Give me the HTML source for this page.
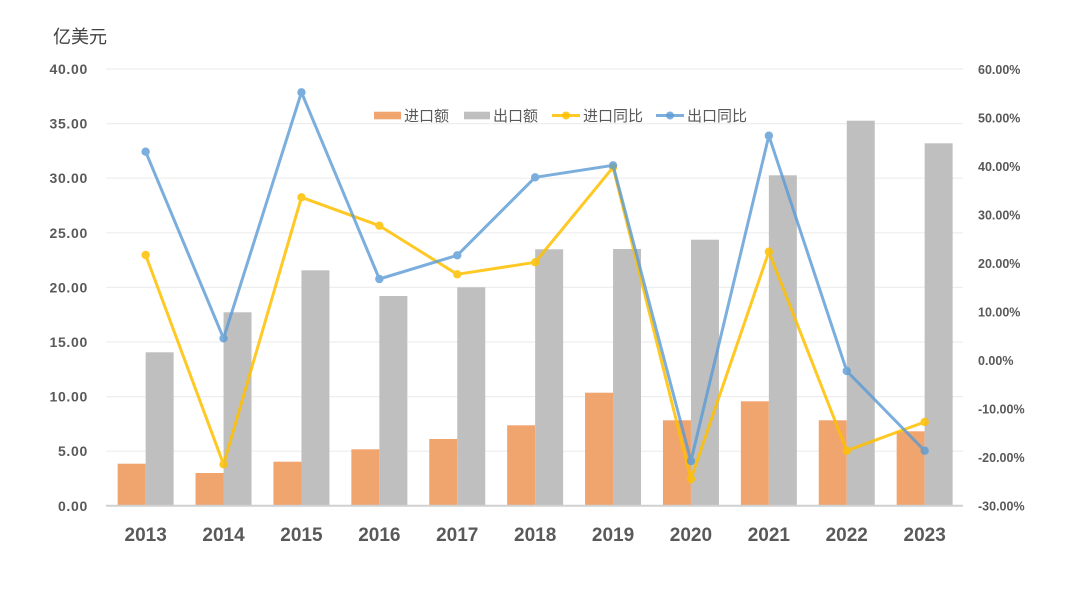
<!DOCTYPE html>
<html><head><meta charset="utf-8">
<style>
html,body{margin:0;padding:0;background:#fff;}
svg{display:block;}
text{font-family:"Liberation Sans","Noto Sans CJK SC",sans-serif;}
</style></head>
<body>
<svg width="1080" height="612" viewBox="0 0 1080 612" xmlns="http://www.w3.org/2000/svg">
<rect width="1080" height="612" fill="#fff"/>
<text x="53" y="43" font-size="18" fill="#404040">亿美元</text>
<!-- gridlines -->
<g stroke="#EEEEEE" stroke-width="1.2">
<line x1="106" y1="69" x2="963" y2="69"/>
<line x1="106" y1="123.6" x2="963" y2="123.6"/>
<line x1="106" y1="178.2" x2="963" y2="178.2"/>
<line x1="106" y1="232.8" x2="963" y2="232.8"/>
<line x1="106" y1="287.4" x2="963" y2="287.4"/>
<line x1="106" y1="342" x2="963" y2="342"/>
<line x1="106" y1="396.6" x2="963" y2="396.6"/>
<line x1="106" y1="451.2" x2="963" y2="451.2"/>
</g>
<!-- left axis labels -->
<g font-size="14" font-weight="bold" fill="#595959" text-anchor="end" letter-spacing="0.7">
<text x="88" y="74">40.00</text>
<text x="88" y="128.6">35.00</text>
<text x="88" y="183.2">30.00</text>
<text x="88" y="237.8">25.00</text>
<text x="88" y="292.4">20.00</text>
<text x="88" y="347">15.00</text>
<text x="88" y="401.6">10.00</text>
<text x="88" y="456.2">5.00</text>
<text x="88" y="511">0.00</text>
</g>
<!-- right axis labels -->
<g font-size="12.5" font-weight="bold" fill="#595959">
<text x="978" y="74">60.00%</text>
<text x="978" y="122.5">50.00%</text>
<text x="978" y="171">40.00%</text>
<text x="978" y="219.5">30.00%</text>
<text x="978" y="268">20.00%</text>
<text x="978" y="316.5">10.00%</text>
<text x="978" y="365">0.00%</text>
<text x="978" y="413.5">-10.00%</text>
<text x="978" y="462">-20.00%</text>
<text x="978" y="510.5">-30.00%</text>
</g>
<!-- bars -->
<g fill="#F0A46E">
<rect x="117.65" y="463.7" width="28" height="41.6"/>
<rect x="195.55" y="473" width="28" height="32.3"/>
<rect x="273.45" y="461.7" width="28" height="43.6"/>
<rect x="351.35" y="449.3" width="28" height="56"/>
<rect x="429.25" y="439" width="28" height="66.3"/>
<rect x="507.15" y="425.3" width="28" height="80"/>
<rect x="585.05" y="392.7" width="28" height="112.6"/>
<rect x="662.95" y="420.3" width="28" height="85"/>
<rect x="740.85" y="401.3" width="28" height="104"/>
<rect x="818.75" y="420.3" width="28" height="85"/>
<rect x="896.65" y="431.3" width="28" height="74"/>
</g>
<g fill="#BFBFBF">
<rect x="145.65" y="352.3" width="28" height="153"/>
<rect x="223.55" y="312.3" width="28" height="193"/>
<rect x="301.45" y="270.3" width="28" height="235"/>
<rect x="379.35" y="296" width="28" height="209.3"/>
<rect x="457.25" y="287.3" width="28" height="218"/>
<rect x="535.15" y="249.3" width="28" height="256"/>
<rect x="613.05" y="249" width="28" height="256.3"/>
<rect x="690.95" y="239.7" width="28" height="265.6"/>
<rect x="768.85" y="175.3" width="28" height="330"/>
<rect x="846.75" y="120.7" width="28" height="384.6"/>
<rect x="924.65" y="143.3" width="28" height="362"/>
</g>
<!-- baseline -->
<line x1="106" y1="505.7" x2="963" y2="505.7" stroke="#D0D0D0" stroke-width="2"/>
<!-- yellow line -->
<g opacity="0.85">
<polyline fill="none" stroke="#FFC000" stroke-width="3" stroke-linejoin="round" points="145.65,255 223.55,464.3 301.45,197.3 379.35,225.7 457.25,274.3 535.15,262.3 613.05,167.3 690.95,479 768.85,251.7 846.75,450.7 924.65,422"/>
<g fill="#FFC000">
<circle cx="145.65" cy="255" r="4.2"/><circle cx="223.55" cy="464.3" r="4.2"/><circle cx="301.45" cy="197.3" r="4.2"/><circle cx="379.35" cy="225.7" r="4.2"/><circle cx="457.25" cy="274.3" r="4.2"/><circle cx="535.15" cy="262.3" r="4.2"/><circle cx="613.05" cy="167.3" r="4.2"/><circle cx="690.95" cy="479" r="4.2"/><circle cx="768.85" cy="251.7" r="4.2"/><circle cx="846.75" cy="450.7" r="4.2"/><circle cx="924.65" cy="422" r="4.2"/>
</g>
</g>
<!-- blue line -->
<g opacity="0.8">
<polyline fill="none" stroke="#5B9BD5" stroke-width="3" stroke-linejoin="round" points="145.65,151.7 223.55,338.3 301.45,92.3 379.35,279 457.25,255.3 535.15,177.3 613.05,165.3 690.95,461 768.85,135.7 846.75,371 924.65,450.7"/>
<g fill="#5B9BD5">
<circle cx="145.65" cy="151.7" r="4.2"/><circle cx="223.55" cy="338.3" r="4.2"/><circle cx="301.45" cy="92.3" r="4.2"/><circle cx="379.35" cy="279" r="4.2"/><circle cx="457.25" cy="255.3" r="4.2"/><circle cx="535.15" cy="177.3" r="4.2"/><circle cx="613.05" cy="165.3" r="4.2"/><circle cx="690.95" cy="461" r="4.2"/><circle cx="768.85" cy="135.7" r="4.2"/><circle cx="846.75" cy="371" r="4.2"/><circle cx="924.65" cy="450.7" r="4.2"/>
</g>
</g>
<!-- x labels -->
<g font-size="19" font-weight="bold" fill="#595959" text-anchor="middle">
<text x="145.65" y="541">2013</text>
<text x="223.55" y="541">2014</text>
<text x="301.45" y="541">2015</text>
<text x="379.35" y="541">2016</text>
<text x="457.25" y="541">2017</text>
<text x="535.15" y="541">2018</text>
<text x="613.05" y="541">2019</text>
<text x="690.95" y="541">2020</text>
<text x="768.85" y="541">2021</text>
<text x="846.75" y="541">2022</text>
<text x="924.65" y="541">2023</text>
</g>
<!-- legend -->
<rect x="374" y="111.7" width="27" height="7.6" fill="#F0A46E"/>
<text x="404" y="121" font-size="15" fill="#595959">进口额</text>
<rect x="464" y="111.7" width="26" height="7.6" fill="#BFBFBF"/>
<text x="493" y="121" font-size="15" fill="#595959">出口额</text>
<line x1="552" y1="115.5" x2="580" y2="115.5" stroke="#FFC000" stroke-opacity="0.85" stroke-width="3"/>
<circle cx="566" cy="115.5" r="4" fill="#FFC000" fill-opacity="0.85"/>
<text x="583" y="121" font-size="15" fill="#595959">进口同比</text>
<line x1="656" y1="115.5" x2="684" y2="115.5" stroke="#5B9BD5" stroke-opacity="0.8" stroke-width="3"/>
<circle cx="670" cy="115.5" r="4" fill="#5B9BD5" fill-opacity="0.8"/>
<text x="687" y="121" font-size="15" fill="#595959">出口同比</text>
</svg>
</body></html>
